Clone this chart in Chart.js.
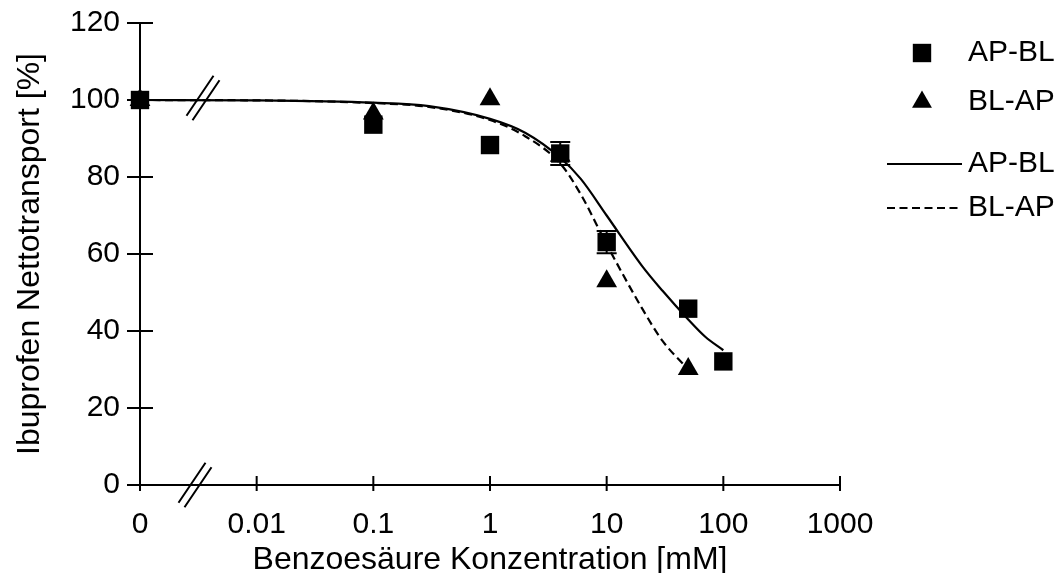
<!DOCTYPE html>
<html lang="de">
<head>
<meta charset="UTF-8">
<title>Ibuprofen Nettotransport</title>
<script src="https://cdn.jsdelivr.net/npm/chart.js"></script>
<style>
  body { margin: 0; background: #fff; }
  #wrap { position: relative; width: 1061px; height: 573px; }
</style>
</head>
<body>
<div id="wrap"><canvas id="chart"></canvas></div>
<script>
// Messwerte (Konzentration in mM, 0 = ohne Benzoesäure)
const apblConc = [0, 0.1, 1, 4, 10, 50, 100];
const apblValues = [100, 93.6, 88.3, 86.1, 63.1, 45.8, 32.1];
const apblSem = [0, 0, 0, 3.0, 2.9, 0, 0];

const blapConc = [0, 0.1, 1, 4, 10, 50];
const blapValues = [100, 96.5, 100.2, 85.5, 52.9, 30.1];

// Angepasste Kurven
const apblFitConc = [0, 0.01, 0.1, 0.3, 1, 2, 4, 6, 10, 20, 30, 50, 70, 100];
const apblFitValues = [100, 99.9, 99.3, 98.4, 95.1, 91.5, 85, 79.5, 70, 57, 50.5, 43, 38.5, 35];
const blapFitConc = [0, 0.01, 0.1, 0.3, 1, 2, 4, 6, 10, 20, 30, 50];
const blapFitValues = [100, 99.9, 99.2, 98.2, 94.8, 90.6, 83.5, 75.5, 62.5, 46, 37.5, 30];

const xTickValues = [0, 0.01, 0.1, 1, 10, 100, 1000];
const xTickLabels = ['0', '0.01', '0.1', '1', '10', '100', '1000'];
const yTickValues = [0, 20, 40, 60, 80, 100, 120];

// "0" sits one decade left of 0.01 on the log axis
const ZERO_AT = 0.001;
const toX = c => (c === 0 ? ZERO_AT : c);
const pts = (xs, ys) => xs.map((c, i) => ({ x: toX(c), y: ys[i] }));

const FONT = 'Arial, "Liberation Sans", sans-serif';
Chart.defaults.font.family = FONT;
Chart.defaults.color = '#000';

// crossing ticks, axis breaks, error bars and the legend
const decor = {
  id: 'decor',
  afterDatasetsDraw(chart) {
    const { ctx, scales: { x, y } } = chart;
    const x0 = x.getPixelForValue(ZERO_AT);
    ctx.save();
    ctx.strokeStyle = '#000';
    ctx.lineWidth = 2;
    ctx.beginPath();
    yTickValues.forEach(v => {
      const py = y.getPixelForValue(v);
      ctx.moveTo(x0 - 13, py);
      ctx.lineTo(x0 + 13, py);
    });
    xTickValues.forEach(v => {
      const px = x.getPixelForValue(toX(v));
      ctx.moveTo(px, y.bottom - 9);
      ctx.lineTo(px, y.bottom + 6);
    });
    // "//" on the x axis and on the curve at 100 %
    const slashes = (cx, cy) => {
      [-1, 1].forEach(s => {
        const ox = cx + s * 3, oy = cy + s * 2.3;
        ctx.moveTo(ox - 13.5, oy + 20);
        ctx.lineTo(ox + 13.5, oy - 20);
      });
    };
    slashes(x0 + 55, y.bottom);
    slashes(x0 + 63, y.getPixelForValue(100) - 2);
    ctx.stroke();

    // error bars of AP-BL
    ctx.beginPath();
    apblConc.forEach((c, i) => {
      if (!apblSem[i]) return;
      const px = x.getPixelForValue(toX(c));
      const top = y.getPixelForValue(apblValues[i] + apblSem[i]);
      const bot = y.getPixelForValue(apblValues[i] - apblSem[i]);
      ctx.moveTo(px, top); ctx.lineTo(px, bot);
      ctx.moveTo(px - 10, top); ctx.lineTo(px + 10, top);
      ctx.moveTo(px - 10, bot); ctx.lineTo(px + 10, bot);
    });
    ctx.stroke();
    ctx.restore();
  },
  afterDraw(chart) {
    const { ctx } = chart;
    const rows = [53, 102, 164, 208];
    ctx.save();
    ctx.font = '30px ' + FONT;
    ctx.textBaseline = 'middle';
    ctx.fillStyle = '#000';
    chart.data.datasets.forEach((ds, i) => {
      const ry = rows[i];
      if (ds.showLine) {
        ctx.save();
        ctx.strokeStyle = ds.borderColor;
        ctx.lineWidth = 2;
        ctx.setLineDash(ds.borderDash || []);
        ctx.beginPath();
        ctx.moveTo(887, ry);
        ctx.lineTo(962, ry);
        ctx.stroke();
        ctx.restore();
      } else {
        Chart.helpers.drawPoint(ctx, {
          pointStyle: ds.pointStyle,
          radius: ds.pointStyle === 'rect' ? 13 : 11.5,
          borderWidth: 0
        }, 922, ry);
      }
      ctx.fillText(ds.label, 968, ry);
    });
    ctx.restore();
  }
};

const noPad = s => { s.paddingTop = 0; s.paddingBottom = 0; s.paddingLeft = 0; s.paddingRight = 0; };

new Chart(document.getElementById('chart'), {
  type: 'scatter',
  data: {
    datasets: [
      {
        label: 'AP-BL',
        data: pts(apblConc, apblValues),
        pointStyle: 'rect',
        pointRadius: 13,
        backgroundColor: '#000',
        borderColor: '#000',
        borderWidth: 0,
        clip: false,
        order: 0
      },
      {
        label: 'BL-AP',
        data: pts(blapConc, blapValues),
        pointStyle: 'triangle',
        pointRadius: 12,
        backgroundColor: '#000',
        borderColor: '#000',
        borderWidth: 0,
        clip: false,
        order: 1
      },
      {
        label: 'AP-BL',
        data: pts(apblFitConc, apblFitValues),
        showLine: true,
        borderColor: '#000',
        borderWidth: 2.2,
        pointRadius: 0,
        cubicInterpolationMode: 'monotone',
        clip: false,
        order: 2
      },
      {
        label: 'BL-AP',
        data: pts(blapFitConc, blapFitValues),
        showLine: true,
        borderColor: '#000',
        borderWidth: 2.2,
        borderDash: [8, 4.5],
        pointRadius: 0,
        cubicInterpolationMode: 'monotone',
        clip: false,
        order: 3
      }
    ]
  },
  options: {
    responsive: true,
    maintainAspectRatio: false,
    devicePixelRatio: 1,
    animation: false,
    layout: { padding: { top: 23, right: 221, left: 0, bottom: 0 } },
    plugins: { legend: { display: false }, tooltip: { enabled: false } },
    scales: {
      x: {
        type: 'logarithmic',
        min: ZERO_AT,
        max: 1000,
        afterBuildTicks: s => { s.ticks = xTickValues.map(v => ({ value: toX(v) })); },
        afterFit: s => { s.height = 88; noPad(s); },
        grid: { display: false, drawTicks: false },
        border: { display: true, color: '#000', width: 2 },
        ticks: {
          autoSkip: false,
          maxRotation: 0,
          padding: 22,
          font: { size: 30 },
          callback: (v, i) => xTickLabels[i]
        },
        title: {
          display: true,
          text: 'Benzoesäure Konzentration [mM]',
          font: { size: 32, lineHeight: 0.8 },
          padding: { top: 0, bottom: 0 }
        }
      },
      y: {
        min: 0,
        max: 120,
        afterBuildTicks: s => { s.ticks = yTickValues.map(v => ({ value: v })); },
        afterFit: s => { s.width = 140; noPad(s); },
        grid: { display: false, drawTicks: false },
        border: { display: true, color: '#000', width: 2 },
        ticks: { padding: 20, font: { size: 30 } },
        title: {
          display: true,
          text: 'Ibuprofen Nettotransport [%]',
          font: { size: 32, lineHeight: 0.8 },
          padding: { top: 17, bottom: 0 }
        }
      }
    }
  },
  plugins: [decor]
});
</script>
</body>
</html>
